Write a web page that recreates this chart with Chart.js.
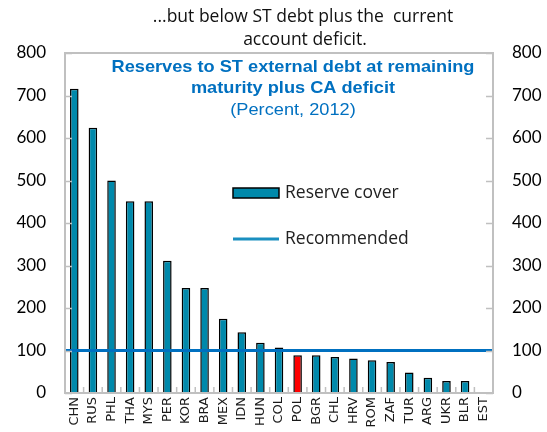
<!DOCTYPE html>
<html>
<head>
<meta charset="utf-8">
<script src="https://cdn.jsdelivr.net/npm/chart.js@4.4.1/dist/chart.umd.min.js"></script>
<style>
  html, body { margin: 0; padding: 0; background: #fff; }
  #wrap { width: 547px; height: 432px; position: relative; }
</style>
</head>
<body>
<div id="wrap"><canvas id="chart" width="547" height="432"></canvas></div>
<script>
// Data
const countries = ['CHN', 'RUS', 'PHL', 'THA', 'MYS', 'PER', 'KOR', 'BRA', 'MEX', 'IDN', 'HUN', 'COL',
    'POL', 'BGR', 'CHL', 'HRV', 'ROM', 'ZAF', 'TUR', 'ARG', 'UKR', 'BLR', 'EST'];
const reserveCover = [716, 624, 500, 451, 451, 311, 247, 247, 175, 143, 118, 107,
    89, 89, 85, 81, 77, 73, 48, 36, 28, 28, 2];
const recommended = 100;
const yTicks = [0, 100, 200, 300, 400, 500, 600, 700, 800];

const highlight = 'POL';
const barColor = '#0089ab';
const lineColor = '#0070c0';

const barColors = countries.map(c => c === highlight ? '#ff0000' : barColor);

// text drawn with a horizontal stretch
function wideText(ctx, text, x, y, sx) {
    ctx.save();
    ctx.translate(x, y);
    ctx.scale(sx, 1);
    ctx.fillText(text, 0, 0);
    ctx.restore();
}

// Frame, inside ticks, titles and legend
const decorPlugin = {
    id: 'decor',
    afterDatasetsDraw(chart) {
        const ctx = chart.ctx;
        const a = chart.chartArea;
        const y = chart.scales.y;
        const x = chart.scales.x;
        ctx.save();
        ctx.strokeStyle = '#c0c0c0';
        ctx.lineWidth = 2;
        ctx.strokeRect(a.left, a.top, a.right - a.left, a.bottom - a.top);

        // inside tick marks
        ctx.lineWidth = 1.5;
        ctx.beginPath();
        yTicks.forEach(v => {
            const py = Math.round(y.getPixelForValue(v)) + 0.5;
            ctx.moveTo(a.left, py); ctx.lineTo(a.left + 7, py);
            ctx.moveTo(a.right, py); ctx.lineTo(a.right - 7, py);
        });
        for (let i = 1; i < countries.length; i++) {
            const px = (x.getPixelForValue(i - 1) + x.getPixelForValue(i)) / 2;
            ctx.moveTo(px, a.bottom); ctx.lineTo(px, a.bottom - 6);
        }
        ctx.stroke();
        ctx.restore();
    },
    afterDraw(chart) {
        const ctx = chart.ctx;
        const a = chart.chartArea;
        ctx.save();
        ctx.textAlign = 'center';
        ctx.textBaseline = 'middle';

        // header above plot
        ctx.fillStyle = '#111';
        ctx.font = '17.5px "Open Sans"';
        ctx.fillText('...but below ST debt plus the  current', a.left + 238, 17);
        ctx.fillText('account deficit.', a.left + 240, 40);

        // blue title inside plot
        ctx.fillStyle = '#0070c0';
        ctx.font = 'bold 17px "Liberation Sans"';
        wideText(ctx, 'Reserves to ST external debt at remaining', a.left + 228, a.top + 14, 1.07);
        wideText(ctx, 'maturity plus CA deficit', a.left + 228, a.top + 35, 1.07);
        ctx.font = '17px "Liberation Sans"';
        wideText(ctx, '(Percent, 2012)', a.left + 228, a.top + 57, 1.07);

        // legend
        const lx = a.left + 168;
        const ly1 = a.top + 140;
        const ly2 = a.top + 186;
        ctx.fillStyle = barColor;
        ctx.strokeStyle = '#000';
        ctx.lineWidth = 1.5;
        ctx.fillRect(lx, ly1 - 5, 46, 10);
        ctx.strokeRect(lx, ly1 - 5, 46, 10);
        ctx.strokeStyle = '#1a8fc0';
        ctx.lineWidth = 3;
        ctx.beginPath();
        ctx.moveTo(lx, ly2); ctx.lineTo(lx + 46, ly2);
        ctx.stroke();
        ctx.fillStyle = '#222';
        ctx.font = '17.5px "Open Sans"';
        ctx.textAlign = 'left';
        ctx.fillText('Reserve cover', lx + 52, ly1);
        ctx.fillText('Recommended', lx + 52, ly2);
        ctx.restore();
    }
};

const yAxisCommon = {
    min: 0,
    max: 800,
    grid: { display: false, drawTicks: false },
    border: { display: false },
    afterBuildTicks: axis => { axis.ticks = yTicks.map(v => ({ value: v })); },
    ticks: { color: '#000', font: { family: 'Lato', size: 17 }, padding: 19 }
};

const ctx = document.getElementById('chart').getContext('2d');
new Chart(ctx, {
    data: {
        labels: countries,
        datasets: [
            {
                type: 'bar',
                label: 'Reserve cover',
                data: reserveCover,
                backgroundColor: barColors,
                borderColor: '#000',
                borderWidth: 1.5,
                barPercentage: 0.46,
                categoryPercentage: 1.0,
                grouped: false,
                order: 1
            },
            {
                type: 'line',
                label: 'Recommended',
                xAxisID: 'xl',
                data: [{ x: 0, y: recommended }, { x: 1, y: recommended }],
                borderColor: lineColor,
                borderWidth: 3,
                pointRadius: 0,
                order: 0
            }
        ]
    },
    options: {
        responsive: false,
        animation: false,
        layout: { padding: { top: 53 } },
        plugins: {
            legend: { display: false },
            tooltip: { enabled: false }
        },
        scales: {
            x: {
                type: 'category',
                grid: { display: false, drawTicks: false },
                border: { display: false },
                ticks: {
                    color: '#1a1a1a',
                    font: { family: 'DejaVu Sans', size: 13 },
                    minRotation: 90,
                    maxRotation: 90,
                    autoSkip: false,
                    padding: 4
                },
                afterFit: s => { s.height = 39; }
            },
            xl: {
                type: 'linear',
                display: false,
                min: 0,
                max: 1
            },
            y: Object.assign({ position: 'left', afterFit: s => { s.width = 65; } }, yAxisCommon),
            y2: Object.assign({ position: 'right', afterFit: s => { s.width = 54; } }, yAxisCommon)
        }
    },
    plugins: [decorPlugin]
});
</script>
</body>
</html>
